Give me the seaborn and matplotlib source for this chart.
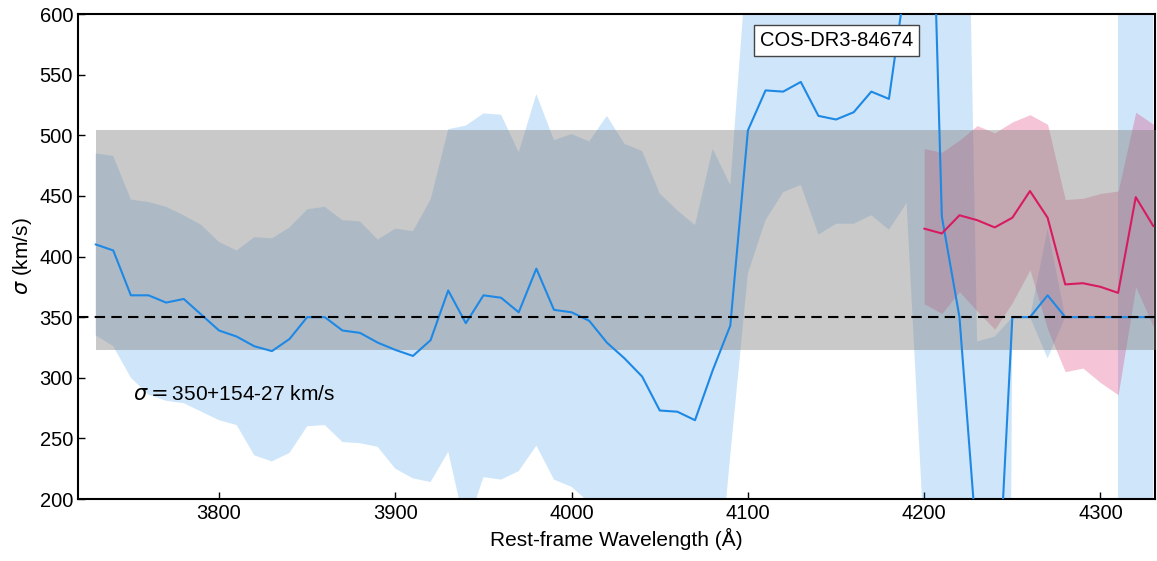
import numpy as np
import matplotlib
matplotlib.use("Agg")
import matplotlib.pyplot as plt
import seaborn as sns

# rest-frame wavelength grid (Angstrom)
wave = np.arange(3730, 4331, 10)

# blue: sigma measured in sliding windows, with its 1-sigma range
sigma_blue = [410, 405, 368, 368, 362, 365, 352, 339, 334, 326,
              322, 332, 350, 350, 339, 337, 329, 323, 318, 331,
              372, 345, 368, 366, 354, 390, 356, 354, 347, 329,
              316, 301, 273, 272, 265, 306, 343, 504, 537, 536,
              544, 516, 513, 519, 536, 530, 633, 950, 433, 350,
              160, 65, 350, 350, 368, 350, 350, 350, 350, 350, 350]
upper_blue = [485, 483, 447, 445, 441, 434, 426, 412, 405, 416,
              415, 424, 439, 441, 430, 429, 414, 423, 421, 447,
              505, 508, 518, 517, 486, 534, 496, 501, 495, 516,
              493, 487, 452, 438, 426, 489, 459, 655, 2000, 2000,
              2000, 2000, 2000, 2000, 2000, 2000, 2000, 2000, 2000, 1100,
              330, 334, 350, 350, 423, 350, np.nan, np.nan, 10000, 10000, 10000]
lower_blue = [335, 326, 300, 286, 281, 279, 272, 265, 261, 236,
              231, 238, 260, 261, 247, 246, 243, 225, 217, 214,
              239, 175, 218, 216, 223, 244, 216, 210, 197, 180,
              170, 160, 150, 140, 120, 80, 236, 386, 430, 453,
              459, 418, 427, 427, 434, 422, 444, 165, -2000, -2000,
              -2000, -2000, 350, 350, 316, 350, np.nan, np.nan, -10000, -10000, -10000]

# red: second measurement, 4200-4330
wave_red = np.arange(4200, 4331, 10)
sigma_red = [423, 419, 434, 430, 424, 432, 454, 432, 377, 378, 375, 370, 449, 425]
upper_red = [489, 486, 496, 508, 502, 511, 517, 509, 447, 448, 452, 454, 519, 509]
lower_red = [361, 353, 371, 355, 340, 362, 389, 340, 305, 308, 296, 286, 375, 342]

# best estimate: 350 +154 -27 km/s
sigma_best = 350
err_hi = 154
err_lo = 27

sns.set_style("ticks")
plt.rcParams["font.family"] = ["Liberation Sans", "DejaVu Sans"]
plt.rcParams["mathtext.fontset"] = "dejavusans"
plt.rcParams["text.color"] = "black"
plt.rcParams["axes.labelcolor"] = "black"

fig = plt.figure(figsize=(11.57, 5.61), dpi=100)
ax = fig.add_axes([0.0674, 0.1105, 0.931, 0.8645])

blue = "#1e88e5"
red = "#d81b60"

ax.fill_between(wave, lower_blue, upper_blue, color=blue, alpha=0.21, lw=0, zorder=1)
ax.fill_between(wave_red, lower_red, upper_red, color=red, alpha=0.25, lw=0, zorder=2)
ax.fill_between([3730, 4340], sigma_best - err_lo, sigma_best + err_hi,
                color="gray", alpha=0.42, lw=0, zorder=3)

sns.lineplot(x=wave, y=sigma_blue, color=blue, lw=1.5, ax=ax, zorder=4)
sns.lineplot(x=wave_red, y=sigma_red, color=red, lw=1.5, ax=ax, zorder=5)
ax.axhline(sigma_best, color="black", ls=(0, (5, 3)), lw=1.5, zorder=6)

ax.text(3751, 286, r"$\sigma = $350+154-27 km/s", fontsize=15, va="center", zorder=7)
ax.text(0.704, 0.946, "COS-DR3-84674", transform=ax.transAxes, fontsize=14.5,
        ha="center", va="center", zorder=8,
        bbox=dict(boxstyle="square,pad=0.3", fc="white", ec="#444444", lw=1))

ax.set_xlim(3720, 4331)
ax.set_ylim(200, 600)
ax.set_xticks([3800, 3900, 4000, 4100, 4200, 4300])
ax.set_yticks(range(200, 601, 50))
ax.set_xlabel("Rest-frame Wavelength (Å)", fontsize=15)
ax.set_ylabel(r"$\sigma$ (km/s)", fontsize=15)
ax.tick_params(direction="in", length=5, width=1, labelsize=14.5, colors="black")
for s in ax.spines.values():
    s.set_linewidth(1.5)
    s.set_color("black")

fig.savefig("out.png", dpi=100)
